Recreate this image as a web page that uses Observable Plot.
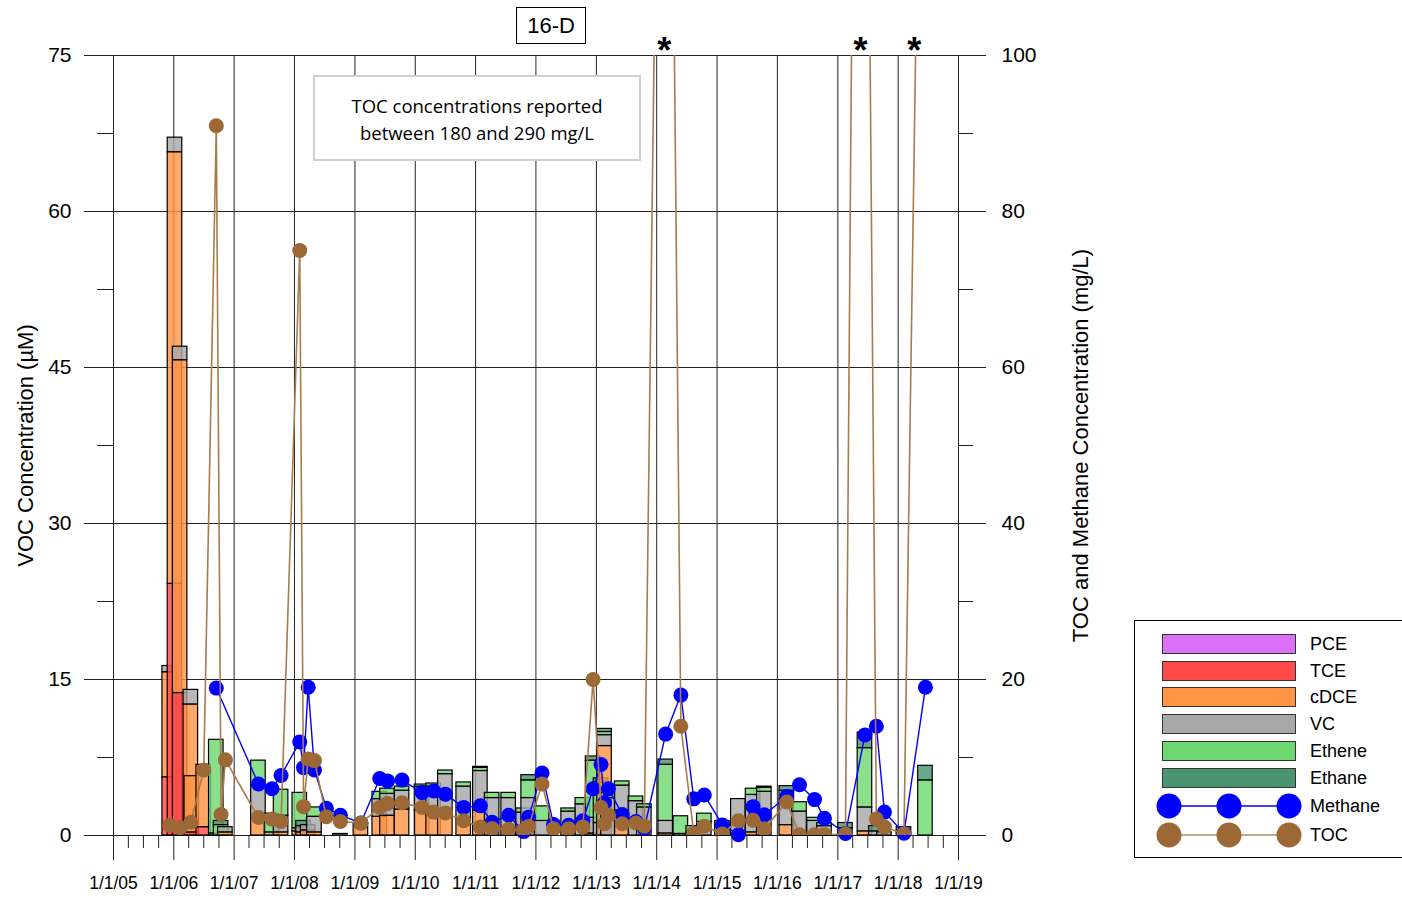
<!DOCTYPE html>
<html><head><meta charset="utf-8">
<script src="https://cdn.jsdelivr.net/npm/d3@7"></script>
<script src="https://cdn.jsdelivr.net/npm/@observablehq/plot@0.6"></script>
<style>
body{margin:0;background:#fff;font-family:"Liberation Sans",Arial,sans-serif;color:#000;}
#wrap{position:relative;width:1402px;height:898px;overflow:hidden;}
#chart{position:absolute;left:0;top:0;}
.titlebox{position:absolute;left:516px;top:7px;width:68px;height:35px;border:1.5px solid #000;font-size:22px;line-height:35px;text-align:center;background:#fff;}
.note{position:absolute;left:313px;top:75px;width:324px;height:82px;border:2px solid #cfcfcf;background:#fff;font-family:"Open Sans",sans-serif;font-size:18.5px;line-height:27px;text-align:center;}
.note div{padding-top:15px;}
.legend{position:absolute;left:1134px;top:620px;width:280px;height:236px;border:1px solid #000;background:#fff;}
.sw{position:absolute;left:27px;width:132px;height:18px;border:1px solid #333;}
.lab{position:absolute;left:175px;font-size:18px;line-height:20px;}
</style></head><body><div id="wrap"><div id="chart"></div></div>
<script>
// Sampling dates
const dates = ["2005-12-07","2006-01-08","2006-02-08","2006-04-14","2006-04-20","2006-07-01","2006-09-15","2006-10-14","2006-11-09",
"2007-05-28","2007-08-18","2007-10-12","2008-02-02","2008-02-25","2008-03-24","2008-05-01","2008-07-12","2008-10-05",
"2009-02-06","2009-05-31","2009-07-17","2009-10-13","2010-02-11","2010-04-22","2010-07-02","2010-10-21",
"2011-01-30","2011-04-11","2011-07-20","2011-10-19","2011-11-18","2012-02-07","2012-04-17","2012-07-17","2012-10-11","2012-12-12",
"2013-01-29","2013-02-19","2013-03-15","2013-06-06","2013-08-28","2013-10-18","2014-02-24","2014-05-27","2014-08-13","2014-10-16",
"2015-02-02","2015-05-10","2015-08-07","2015-10-14","2016-02-27","2016-05-14","2016-08-13","2016-10-12",
"2017-02-16","2017-05-18","2017-06-14","2017-08-22","2017-10-10","2018-02-05","2018-06-15"];
// VOC concentrations (uM)
const pce = [0,0,0,0,0,0,0,0,0, 0,0,0,0,0,0,0,0,0, 0,0,0,0,0,0,0,0, 0,0,0,0,0,0,0,0,0,0, 0,0,0,0,0,0,0,0,0,0, 0,0,0,0,0,0,0,0, 0,0,0,0,0,0,0];
const tce = [5.6,24.2,13.7,0,0.3,0.8,0,0,0, 0,0,0,0,0,0,0,0,0, 0,0,0,0,0,0,0,0, 0,0,0,0,0,0,0,0,0,0, 0,0,0,0,0,0,0,0,0,0, 0,0,0,0,0,0,0,0, 0,0,0,0,0,0,0];
const cdce = [10.1,41.5,32.0,12.6,5.4,6.0,0,0,0.3, 1.6,0,0.3,0.4,0.3,0.5,0.3,0,0, 1.2,1.8,1.9,2.5,2.4,2.2,2.0,1.6, 2.4,0,0,0,0,0,0,0,0,0.2, 0,8.6,0,2.4,0,0,0.2,0,0,0, 0,0,0.3,0,1.0,0,0,0, 0,0,0.4,0,0,0,0];
const vc = [0.6,1.4,1.3,1.4,0,0,0.2,0,0.5, 3.2,0.3,1.6,0.3,0.6,0.5,1.5,0,0.15, 0,1.7,2.1,1.8,2.3,2.5,3.9,3.1, 3.8,3.6,3.6,2.2,3.6,1.4,0,2.3,3.0,1.5, 1.2,1.05,3.6,2.4,3.3,2.7,1.2,0.15,0.3,1.3, 1.0,3.5,3.6,4.2,2.5,2.3,1.4,0.9, 0.2,0,2.3,0.4,0.3,0,0];
const ethene = [0,0,0,0,0,0,9.0,1.0,0, 2.4,1.8,2.5,3.4,0,0,0.9,0,0, 0,0.7,0.5,0.4,0.2,0.3,0.35,0.4, 0.3,0.5,0.5,0.4,1.7,1.4,0,0.3,0.6,5.5, 3.9,0.3,0.5,0.4,0.45,0.3,5.4,1.7,0.6,0.8, 0.4,0,0.6,0.4,0.8,0.9,0.3,0.3, 0.5,0,5.7,0,0,0.3,5.3];
const ethane = [0,0,0,0,0,0,0,0.4,0, 0,0,0,0,0.5,0,0,0,0, 0,0,0,0,0,0,0,0, 0.1,0,0,0,0.5,0,0,0,0,0.4, 0.4,0.3,0,0,0,0,0.5,0,0,0, 0,0,0,0.1,0.45,0,0,0, 0.5,0,1.5,0.5,0,0.5,1.4];
// Methane and TOC (mg/L)
const methane = [null,null,null,null,null,null,18.9,null,null, 6.6,6.0,7.7,12.0,8.7,19.0,8.4,3.5,2.6, 1.6,7.3,7.0,7.1,5.5,5.7,5.3,3.6, 3.8,1.7,2.6,0.5,2.35,8.0,1.4,1.3,1.9,6.0, 9.1,4.2,6.0,2.7,1.8,0.9,13.0,18.0,4.7,5.2, 1.35,0.1,3.7,2.65,5.0,6.5,4.6,2.2, 0.25,null,12.9,14.0,3.0,0.3,19.0];
const toc = [1.3,null,1.0,1.7,null,8.4,91,2.7,9.7, 2.3,2.1,1.8,75,3.7,9.8,9.6,2.4,1.8, 1.6,3.6,4.1,4.2,3.6,3.0,2.9,1.9, 1.1,0.9,0.8,0.7,1.15,6.6,0.85,0.85,1.1,20.0, 3.6,1.5,2.6,1.5,1.6,1.2,218,14.0,0.3,1.2, 0.2,1.9,1.95,0.85,4.3,0.1,0.1,0.1, 0.2,250,null,2.1,1.1,0.2,185];
// Samples with TOC above the axis maximum
const asteriskDates = ["2014-02-16","2017-05-18","2018-04-09"];
const species = ["PCE","TCE","cDCE","VC","Ethene","Ethane"];
const speciesColors = ["#d970f7","#ff4a4a","#ff9445","#a8a8a8","#6fd870","#4b9470"];
const yTicks = [0,15,30,45,60,75];
const yMinor = [7.5,22.5,37.5,52.5,67.5];

const parse = d3.utcParse("%Y-%m-%d");
const seriesVals = [pce,tce,cdce,vc,ethene,ethane];
const halfDays = 44;
const segs = [];
dates.forEach((d,i)=>{
  const t = parse(d); let y = 0;
  species.forEach((s,k)=>{
    const v = seriesVals[k][i];
    if (v > 0) { segs.push({x1:d3.utcDay.offset(t,-halfDays), x2:d3.utcDay.offset(t,halfDays), y1:y, y2:y+v, s}); y += v; }
  });
});
const scaleR = 75/100;
const meth = dates.map((d,i)=>({t:parse(d), v:methane[i]})).filter(d=>d.v!=null);
const tocD = dates.map((d,i)=>({t:parse(d), v:toc[i]})).filter(d=>d.v!=null);
const x0 = parse("2005-01-01"), x1 = parse("2019-01-01");
const years = d3.utcYear.range(x0, d3.utcDay.offset(x1,1));
const quarters = d3.utcMonth.every(3).range(x0, x1).filter(d=>d.getUTCMonth()!==0);
const fmt = d3.utcFormat("%-m/%-d/%y");

const plot = Plot.plot({
  width:1402, height:898, marginLeft:113, marginRight:444, marginTop:55, marginBottom:63,
  x:{type:"utc", domain:[x0,x1]},
  y:{domain:[0,75]},
  color:{domain:species, range:speciesColors},
  style:{fontFamily:"'Liberation Sans', Arial, sans-serif", color:"#000", background:"transparent"},
  marks:[
    Plot.gridY(yTicks,{stroke:"#222", strokeOpacity:1, strokeWidth:1}),
    Plot.gridX(years,{stroke:"#222", strokeOpacity:1, strokeWidth:1}),
    Plot.rect(segs,{x1:"x1",x2:"x2",y1:"y1",y2:"y2",fill:"s",fillOpacity:0.82,stroke:"#000",strokeWidth:1.2}),
    Plot.line(meth,{x:"t",y:d=>d.v*scaleR,stroke:"#0000ff",strokeWidth:1.4}),
    Plot.dot(meth,{x:"t",y:d=>d.v*scaleR,r:7.5,fill:"#0000ff",stroke:"none"}),
    Plot.line(tocD,{x:"t",y:d=>d.v*scaleR,stroke:"#a87b4c",strokeWidth:1.6,clip:true}),
    Plot.dot(tocD,{x:"t",y:d=>d.v*scaleR,r:7.5,fill:"#9b6836",stroke:"none",clip:true}),
    Plot.axisY(yTicks,{anchor:"left", tickSize:29, tickPadding:13, fontSize:21, label:null, stroke:"#222"}),
    Plot.axisY(yMinor,{anchor:"left", tickSize:16, tickFormat:()=>"", label:null, stroke:"#222"}),
    Plot.axisY(yTicks,{anchor:"right", tickSize:27, tickPadding:16, fontSize:21, label:null, stroke:"#222", tickFormat:d=>Math.round(d/scaleR)}),
    Plot.axisY(yMinor,{anchor:"right", tickSize:14, tickFormat:()=>"", label:null, stroke:"#222"}),
    Plot.axisX(years,{anchor:"bottom", tickSize:25, tickPadding:16, fontSize:17.5, label:null, tickFormat:fmt, stroke:"#222"}),
    Plot.axisX(quarters,{anchor:"bottom", tickSize:13, tickFormat:()=>"", label:null, stroke:"#222"}),
    Plot.text(["VOC Concentration (µM)"],{frameAnchor:"left", textAnchor:"middle", dx:-88, rotate:-90, fontSize:22}),
    Plot.text(["TOC and Methane Concentration (mg/L)"],{frameAnchor:"right", textAnchor:"middle", dx:122, rotate:-90, fontSize:22}),
    Plot.text(asteriskDates,{x:d=>parse(d), y:75, text:()=>"*", fontSize:36, fontWeight:"bold", dy:-4})
  ]
});
document.getElementById("chart").appendChild(plot);

const wrap = document.getElementById("wrap");
const t = document.createElement("div"); t.className="titlebox"; t.textContent="16-D"; wrap.appendChild(t);
const n = document.createElement("div"); n.className="note"; n.innerHTML="<div>TOC concentrations reported<br>between 180 and 290 mg/L</div>"; wrap.appendChild(n);

const lg = document.createElement("div"); lg.className="legend"; wrap.appendChild(lg);
species.forEach((s,i)=>{
  const top = 13 + i*26.7;
  const sw = document.createElement("div"); sw.className="sw"; sw.style.top=top+"px"; sw.style.background=speciesColors[i]; lg.appendChild(sw);
  const lb = document.createElement("div"); lb.className="lab"; lb.style.top=(top)+"px"; lb.textContent=s; lg.appendChild(lb);
});
const lineRows = [{name:"Methane", fill:"#0000ff", line:"#0000ff", y:185},{name:"TOC", fill:"#9b6836", line:"#b08a64", y:214}];
const NS="http://www.w3.org/2000/svg";
const sv = document.createElementNS(NS,"svg"); sv.setAttribute("width","170"); sv.setAttribute("height","236");
sv.style.position="absolute"; sv.style.left="0"; sv.style.top="0"; lg.appendChild(sv);
lineRows.forEach(r=>{
  const ln = document.createElementNS(NS,"line");
  ln.setAttribute("x1",34); ln.setAttribute("x2",154); ln.setAttribute("y1",r.y); ln.setAttribute("y2",r.y);
  ln.setAttribute("stroke",r.line); ln.setAttribute("stroke-width",1.5); sv.appendChild(ln);
  [34,94,154].forEach(cx=>{
    const c = document.createElementNS(NS,"circle"); c.setAttribute("cx",cx); c.setAttribute("cy",r.y); c.setAttribute("r",12.5); c.setAttribute("fill",r.fill); sv.appendChild(c);
  });
  const lb = document.createElement("div"); lb.className="lab"; lb.style.top=(r.y-10)+"px"; lb.textContent=r.name; lg.appendChild(lb);
});
</script></body></html>
